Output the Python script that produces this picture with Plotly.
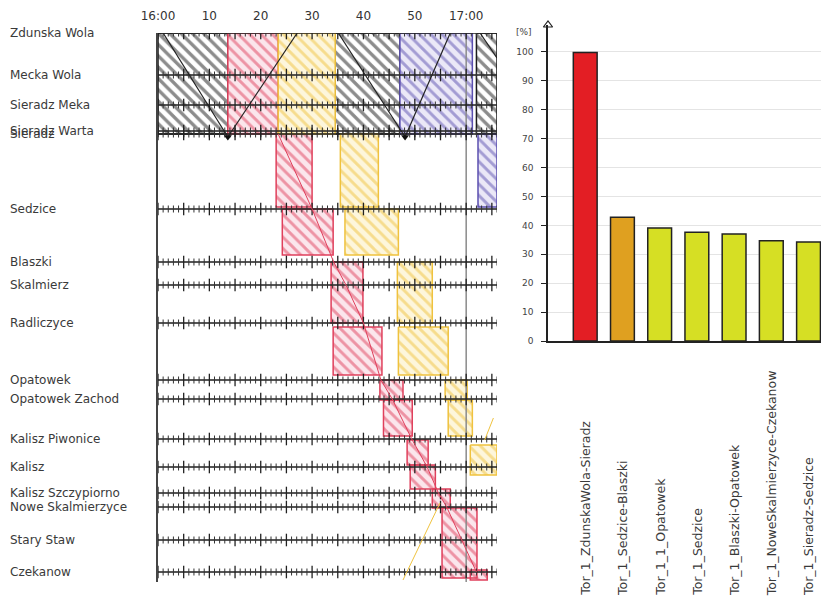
import plotly.graph_objects as go

# page body has an 8px margin, so the figure is 8px smaller and all pixel targets shift by -8
OFF = 8
W, H = 829 - OFF, 603 - OFF


def fx(px):
    return (px - OFF) / W


def fy(py):
    return 1 - (py - OFF) / H


# ---------------- data: time-distance diagram ----------------
stations = ["Zdunska Wola", "Mecka Wola", "Sieradz Meka", "Sieradz Warta", "Sieradz",
            "Sedzice", "Blaszki", "Skalmierz", "Radliczyce", "Opatowek",
            "Opatowek Zachod", "Kalisz Piwonice", "Kalisz", "Kalisz Szczypiorno",
            "Nowe Skalmierzyce", "Stary Staw", "Czekanow"]
station_km = [0, 8.4, 14.4, 19.6, 20.2, 35.2, 45.8, 50.4, 58.0, 69.4,
              73.2, 81.2, 86.8, 92.0, 94.8, 101.4, 107.8]

time_tickvals = [0, 10, 20, 30, 40, 50, 60]
time_ticktext = ["16:00", "10", "20", "30", "40", "50", "17:00"]

# blocks: (start min after 16:00, end min, km from, km to)
black_blocks = [(0, 13.6, 0, 20.2), (34.5, 47.1, 0, 20.2), (62.0, 66.0, 0, 20.2)]
red_blocks = [(13.6, 23.4, 0, 20.2), (23.0, 30.0, 20.2, 34.8), (24.2, 34.1, 35.2, 44.4),
              (33.7, 39.9, 45.8, 58.0), (34.1, 43.6, 58.8, 68.4), (43.2, 47.7, 69.4, 73.4),
              (43.9, 49.5, 73.4, 80.6), (48.5, 52.6, 81.4, 86.4), (49.1, 54.0, 86.4, 91.2),
              (53.4, 56.9, 91.2, 95.0), (55.3, 62.1, 95.0, 109.0), (60.8, 64.1, 107.4, 109.4)]
yellow_blocks = [(23.4, 34.5, 0, 20.2), (35.5, 42.9, 20.2, 34.8), (36.4, 46.8, 35.2, 44.4),
                 (46.6, 53.4, 45.8, 58.0), (46.8, 56.5, 58.8, 68.4), (55.9, 60.2, 69.4, 73.4),
                 (56.5, 61.2, 73.4, 80.6), (60.8, 66.0, 82.4, 88.4)]
purple_blocks = [(47.1, 61.2, 0, 20.2), (62.3, 66.0, 20.2, 34.8)]

dark_paths = [([1.0, 13.6], [0, 20.8]), ([13.6, 27.1], [20.8, 0]),
              ([35.1, 48.1], [0, 20.8]), ([48.1, 56.9], [20.8, 0]),
              ([62.7, 66.0], [0, 5.0])]
dark_arrow_t = [13.6, 48.1]
dark_arrow_k = [20.8, 20.8]

red_path_t = [23.4, 30.0, 34.2, 36.6, 40.0, 43.4, 45.6, 49.4, 52.4, 54.6, 56.2, 59.2, 62.0]
red_path_k = station_km[4:]

yellow_paths = [([47.7, 54.9], [109.4, 94.0]), ([65.3, 63.6], [77.0, 81.4])]

# ---------------- data: bar chart ----------------
bar_labels = ["Tor_1_ZdunskaWola-Sieradz", "Tor_1_Sedzice-Blaszki", "Tor_1_1_Opatowek",
              "Tor_1_Sedzice", "Tor_1_Blaszki-Opatowek", "Tor_1_NoweSkalmierzyce-Czekanow",
              "Tor_1_Sieradz-Sedzice"]
bar_values = [99.8, 42.8, 39.1, 37.6, 37.0, 34.7, 34.2]
bar_colors = ["#e31e24", "#dfa020", "#d6df24", "#d6df24", "#d6df24", "#d6df24", "#d6df24"]

FONT = "DejaVu Sans"
fig = go.Figure()


def poly(blocks):
    xs, ys = [], []
    for t0, t1, k0, k1 in blocks:
        xs += [t0, t1, t1, t0, t0, None]
        ys += [k0, k0, k1, k1, k0, None]
    return xs, ys


def add_blocks(blocks, fg, bg, solidity):
    xs, ys = poly(blocks)
    fig.add_trace(go.Scatter(
        x=xs, y=ys, mode="lines", fill="toself", fillcolor=bg,
        fillpattern=dict(shape="\\", fgcolor=fg, bgcolor=bg, size=8, solidity=solidity),
        line=dict(color=fg, width=1.5), hoverinfo="skip", xaxis="x", yaxis="y"))


add_blocks(black_blocks, "#1a1a1a", "#ffffff", 0.42)
add_blocks(red_blocks, "#e0405c", "#fbe6ec", 0.36)
add_blocks(yellow_blocks, "#efc23e", "#fdf6dc", 0.36)
add_blocks(purple_blocks, "#5b4fb0", "#ebe8f7", 0.36)

# 17:00 line
fig.add_trace(go.Scatter(x=[60, 60], y=[0, 109.8], mode="lines",
                         line=dict(color="#8a8a8a", width=1.5), xaxis="x", yaxis="y"))

# station lines
sx, sy = [], []
for k in station_km:
    sx += [0, 66, None]
    sy += [k, k, None]
fig.add_trace(go.Scatter(x=sx, y=sy, mode="lines", line=dict(color="#1e1e1e", width=1.5),
                         xaxis="x", yaxis="y"))

# minute ticks on station lines
mx, my, Mx, My = [], [], [], []
for k in station_km:
    for m in range(0, 67):
        if m % 5 == 0:
            Mx.append(m); My.append(k)
        else:
            mx.append(m); my.append(k)
fig.add_trace(go.Scatter(x=mx, y=my, mode="markers",
                         marker=dict(symbol="line-ns", size=5, line=dict(color="#333", width=1)),
                         xaxis="x", yaxis="y"))
fig.add_trace(go.Scatter(x=Mx, y=My, mode="markers",
                         marker=dict(symbol="line-ns", size=9, line=dict(color="#222", width=1.3)),
                         xaxis="x", yaxis="y"))

# train paths
for t, k in dark_paths:
    fig.add_trace(go.Scatter(x=t, y=k, mode="lines", line=dict(color="#222", width=1.2),
                             xaxis="x", yaxis="y"))
fig.add_trace(go.Scatter(x=dark_arrow_t, y=dark_arrow_k, mode="markers",
                         marker=dict(symbol="triangle-down", size=7, color="#111"),
                         xaxis="x", yaxis="y"))
fig.add_trace(go.Scatter(x=red_path_t, y=red_path_k, mode="lines",
                         line=dict(color="#e0405c", width=1), xaxis="x", yaxis="y"))
for t, k in yellow_paths:
    fig.add_trace(go.Scatter(x=t, y=k, mode="lines", line=dict(color="#efc23e", width=1),
                             xaxis="x", yaxis="y"))

# ---------------- bar chart ----------------
fig.add_trace(go.Bar(x=list(range(len(bar_values))), y=bar_values, width=0.64,
                     marker=dict(color=bar_colors, line=dict(color="#222", width=1.5)),
                     xaxis="x2", yaxis="y2"))
fig.add_trace(go.Scatter(x=[-1], y=[109.3], mode="markers", cliponaxis=False,
                         marker=dict(symbol="triangle-up-open", size=8, color="#222",
                                     line=dict(width=1.2, color="#222")),
                         xaxis="x2", yaxis="y2"))

annotations = []
for name, k in zip(stations, station_km):
    annotations.append(dict(x=0, xref="paper", xanchor="left", y=k, yref="y",
                            text=name, showarrow=False,
                            font=dict(family=FONT, size=12, color="#3a3a3a")))
for i, lab in enumerate(bar_labels):
    annotations.append(dict(x=i, xref="x2", y=fy(598), yref="paper", yanchor="bottom",
                            xanchor="center", textangle=-90, text=lab, showarrow=False,
                            font=dict(family=FONT, size=12.5, color="#3a3a3a")))
annotations.append(dict(x=fx(524), xref="paper", y=fy(25), yref="paper", text="[%]",
                        showarrow=False, font=dict(family=FONT, size=9, color="#444")))

fig.update_layout(
    width=W, height=H, margin=dict(l=0, r=0, t=0, b=0, pad=0, autoexpand=False),
    plot_bgcolor="white", paper_bgcolor="white", showlegend=False,
    xaxis=dict(domain=[fx(158), fx(497)], range=[0, 66], side="top",
               tickvals=time_tickvals, ticktext=time_ticktext, showgrid=False,
               zeroline=False, showline=False, ticks="", ticklabelstandoff=10,
               automargin=False, tickfont=dict(family=FONT, size=12, color="#333")),
    yaxis=dict(domain=[fy(582), fy(33)], range=[109.8, 0], showgrid=False,
               zeroline=False, showticklabels=False, showline=True, automargin=False,
               linecolor="#444", linewidth=1.5),
    xaxis2=dict(domain=[fx(548), 1], range=[-1, 6.55], anchor="y2", showline=True,
                linecolor="#222", linewidth=1.5, showticklabels=False, showgrid=False,
                zeroline=False, ticks="", automargin=False),
    yaxis2=dict(domain=[fy(341), fy(25)], range=[0, 109.3], anchor="x2",
                showline=True, linecolor="#222", linewidth=1.5, ticks="outside",
                ticklen=5, tickcolor="#222", tickvals=list(range(0, 101, 10)),
                showgrid=True, gridcolor="#e4e4e4", zeroline=False, automargin=False,
                ticklabelstandoff=6,
                tickfont=dict(family=FONT, size=9, color="#444")),
    annotations=annotations,
)

fig.write_html("out.html")
